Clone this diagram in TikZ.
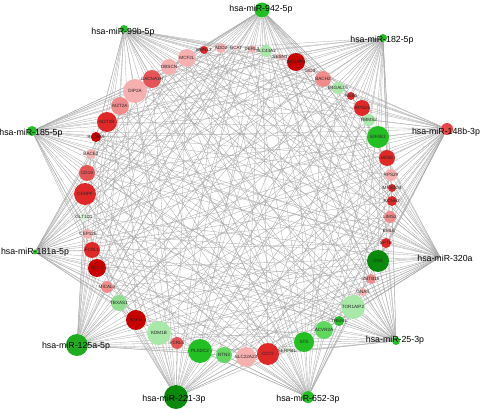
\documentclass[tikz,border=0pt]{standalone}
\usepackage{fontspec}
\setmainfont{Liberation Sans}
\pgfdeclarelayer{bottom}
\pgfdeclarelayer{background}
\pgfsetlayers{bottom,background,main}
\definecolor{dred}{HTML}{C80000}
\definecolor{redA}{HTML}{E02828}
\definecolor{redB}{HTML}{E65555}
\definecolor{pinkA}{HTML}{F28C8C}
\definecolor{pinkB}{HTML}{F7B0B0}
\definecolor{pinkC}{HTML}{FAD0D0}
\definecolor{dgreen}{HTML}{0A8A0A}
\definecolor{greenA}{HTML}{22C022}
\definecolor{greenB}{HTML}{60D860}
\definecolor{greenT}{HTML}{8EE08E}
\definecolor{lgreen}{HTML}{A8E8A8}
\definecolor{vlgreen}{HTML}{D8F2D8}
\definecolor{mirred}{HTML}{E84848}
\definecolor{edgegray}{HTML}{A8A8A8}
\tikzset{
  gene/.style={circle, inner sep=0pt, draw=none},
  glab/.style={font=\fontsize{4.6}{5}\selectfont, text=black!85, inner sep=0pt},
  mir/.style={circle, inner sep=0pt, draw=none},
  mlab/.style={font=\fontsize{8.8}{10}\selectfont, text=black, inner sep=0pt},
  edge/.style={draw=edgegray, line width=0.3pt}
}
\begin{document}
\begin{tikzpicture}[x=1pt,y=-1pt]
\useasboundingbox (0,0) rectangle (480,409);
\begin{pgfonlayer}{bottom}
\fill[white] (0,0) rectangle (480,409);
\end{pgfonlayer}
% genes
\foreach \i/\x/\y/\d/\c/\t in {
 1/204/50/8/redA/MBNL3, 2/221/48/10/pinkB/ADD2, 3/236/48/6/pinkC/GCAT,
 4/252/49/8/pinkB/DERL3, 5/266/51/12/lgreen/SLC43A2, 6/280/57/6/pinkB/SESN3,
 7/296/62/18/dred/IGF2BP3, 8/310/71/6/pinkC/GID4, 9/323/79/16/pinkA/BACH2,
 10/338/88/12/lgreen/B4GALT5, 11/351/96/8/redA/RGS6, 12/362/108/16/redA/RPS24,
 13/369/120/12/lgreen/RBMS2, 14/378/137/22/greenA/EIF4E3, 15/387/158/16/redA/HES6,
 16/391/175/12/pinkB/RPS29, 17/392/188/8/redA/MFSD2B, 18/392/201/10/redA/KCNH2,
 19/390/217/12/pinkA/LIMS2, 20/389/231/6/pinkC/EML6, 21/386/243/10/redA/SPTB,
 22/378/261/22/dgreen/GNS, 23/371/279/10/pinkA/ZBTB16, 24/363/292/8/pinkB/GNAS,
 25/353/307/24/lgreen/TOR1AIP2, 26/339/321/10/greenA/TREM1, 27/324/330/18/greenB/ACVR2A,
 28/304/342/20/greenA/STS, 29/287/351/6/vlgreen/SERPB1, 30/268/354/22/redA/CD72,
 31/246/357/20/pinkB/SLC22A23, 32/224/355/16/greenB/RTN3, 33/200/351/24/greenA/PLXDC2,
 34/177/343/12/redB/FCRL5, 35/159/333/24/lgreen/KDM1B, 36/136/320/20/dred/ANKH,
 37/119/303/16/greenT/TBXAS1, 38/107/287/12/pinkA/MICAL3, 39/97/268/18/dred/KLC3,
 40/92/250/16/redA/FCRL1, 41/88/234/10/pinkB/CEP126, 42/84/217/8/vlgreen/GLT1D1,
 43/85/194/22/redA/CENPF, 44/87/173/16/redB/CD19, 45/91/154/10/pinkB/BACE2,
 46/96/137/10/dred/SLC9A9, 47/107/122/20/redA/MZT2B, 48/120/106/18/pinkA/MZT2A,
 49/135/91/24/pinkB/DIP2A, 50/152/79/18/redB/CACNA1H, 51/169/67/16/pinkB/OBSCN,
 52/187/58/18/pinkB/MCF2L}
 \node[gene, fill=\c, minimum size=\d pt, label={[glab]center:\t}] (g\i) at (\x,\y) {};
% miRNAs
\node[mir, fill=greenA, minimum size=15pt] (m1) at (262,10) {};
\node[mir, fill=greenA, minimum size=8pt] (m2) at (383,38) {};
\node[mir, fill=mirred, minimum size=12pt] (m3) at (447,129) {};
\coordinate (m4) at (440,257);
\node[mir, fill=greenA, minimum size=8pt] (m5) at (396,341) {};
\node[mir, fill=greenA, minimum size=12pt] (m6) at (308,397) {};
\node[mir, fill=dgreen, minimum size=24pt] (m7) at (176,397) {};
\node[mir, fill=greenA!90!black, minimum size=22pt] (m8) at (77,345) {};
\node[mir, fill=greenA, minimum size=5pt] (m9) at (35,252) {};
\node[mir, fill=greenA, minimum size=10pt] (m10) at (32,131) {};
\node[mir, fill=greenA, minimum size=8pt] (m11) at (124,29) {};
\node[mlab] (l1) at (261,9) {hsa-miR-942-5p};
\node[mlab] (l2) at (382,40) {hsa-miR-182-5p};
\node[mlab] (l3) at (446,132) {hsa-miR-148b-3p};
\node[mlab] (l4) at (445,258) {hsa-miR-320a};
\node[mlab] (l5) at (395,340) {hsa-miR-25-3p};
\node[mlab] (l6) at (308,399) {hsa-miR-652-3p};
\node[mlab] (l7) at (174,399) {hsa-miR-221-3p};
\node[mlab] (l8) at (76,346) {hsa-miR-125a-5p};
\node[mlab] (l9) at (35,252) {hsa-miR-181a-5p};
\node[mlab] (l10) at (31,133) {hsa-miR-185-5p};
\node[mlab] (l11) at (123,32) {hsa-miR-99b-5p};
% edges
\begin{pgfonlayer}{background}
\foreach \g in {49,50,51,52,1,2,3,4,5,6,7,8,9,10,11,12,15,18,20,23,25,28,30,33,35,36,39,40,43,46,14,17,22,27,31,38,42,45,48}
  \draw[edge] (m1) -- (g\g);
\foreach \g in {5,6,7,8,9,10,11,12,13,14,15,16,20,22,24,26,30,31,34,35,39,41,43,45,47,50,18,19,28,33,37,44,49,52,2}
  \draw[edge] (m2) -- (g\g);
\foreach \g in {10,11,12,13,14,15,16,17,18,19,20,21,22,25,27,28,31,33,36,38,40,43,44,47,49,51,2,24,30,34,39,42,46,52,5,7}
  \draw[edge] (m3) -- (g\g);
\foreach \g in {15,16,17,18,19,20,21,22,23,24,25,26,27,28,31,32,34,35,37,39,42,44,46,49,52,1,7,9,30,33,38,41,45,48,50,3,5,11}
  \draw[edge] (m4) -- (g\g);
\foreach \g in {21,22,23,24,25,26,27,28,29,30,31,36,38,41,42,44,46,47,50,52,3,5,8,12,16,33,35,40,43,48,1,6,10,14,18}
  \draw[edge] (m5) -- (g\g);
\foreach \g in {24,25,26,27,28,29,30,31,32,33,37,40,43,45,46,48,50,52,2,4,7,10,14,19,35,39,42,47,51,1,9,12,17,21}
  \draw[edge] (m6) -- (g\g);
\foreach \g in {29,30,31,32,33,34,35,36,37,38,41,43,44,47,48,50,2,3,6,9,11,13,15,20,24,40,45,49,52,5,8,17,19,22,26}
  \draw[edge] (m7) -- (g\g);
\foreach \g in {31,32,33,34,35,36,37,38,39,40,41,42,45,46,48,49,51,1,3,5,8,11,13,17,19,22,27,44,47,50,2,7,10,15,21,24,29}
  \draw[edge] (m8) -- (g\g);
\foreach \g in {35,36,37,38,39,40,41,42,43,44,45,48,50,52,1,4,5,9,12,14,16,19,23,26,28,31,47,49,3,7,11,18,21,25,30,33}
  \draw[edge] (m9) -- (g\g);
\foreach \g in {39,40,41,42,43,44,45,46,47,48,49,50,1,3,6,8,10,12,15,16,18,21,24,26,29,33,52,2,5,9,14,20,22,27,31,36}
  \draw[edge] (m10) -- (g\g);
\foreach \g in {46,47,48,49,50,51,52,1,2,3,4,7,8,11,13,15,17,19,21,23,26,28,30,32,34,38,42,6,10,14,18,22,25,29,36,40,44}
  \draw[edge] (m11) -- (g\g);
\end{pgfonlayer}
\end{tikzpicture}
\end{document}
